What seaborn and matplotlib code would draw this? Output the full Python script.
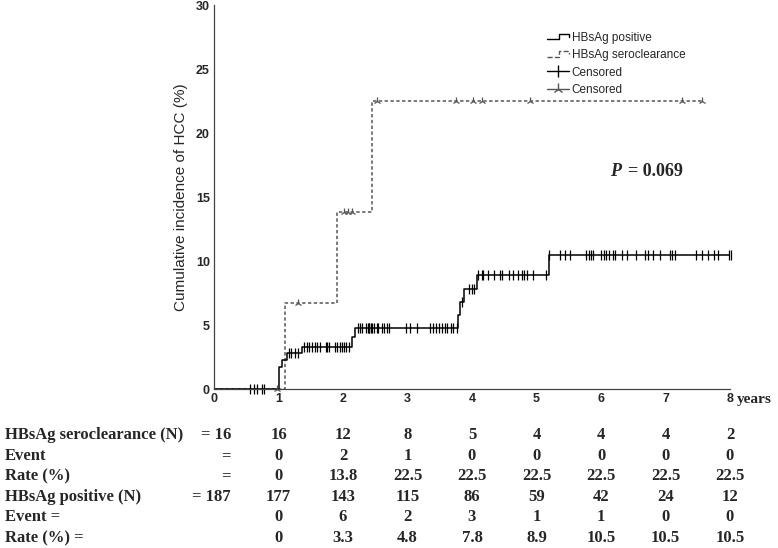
import numpy as np
import matplotlib
matplotlib.use("Agg")
import matplotlib.pyplot as plt
import matplotlib.transforms as mtransforms
from matplotlib.lines import Line2D
from matplotlib.legend_handler import HandlerBase
import seaborn as sns

# ---- step curves (years, cumulative incidence %) ----
pos_times = [0, 1.01, 1.06, 1.13, 1.36, 2.14, 2.19, 3.78, 3.81, 3.88, 4.07, 5.20, 8.01]
pos_rates = [0, 1.7, 2.3, 2.8, 3.3, 4.05, 4.8, 5.8, 6.8, 7.8, 8.9, 10.5, 10.5]
sero_times = [0, 1.10, 1.91, 2.45, 7.58]
sero_rates = [0, 6.7, 13.8, 22.5, 22.5]

# censored times
pos_cens = [0.56, 0.62, 0.67, 0.74, 0.78,
            1.16, 1.20, 1.25, 1.30,
            1.40, 1.44, 1.48, 1.52, 1.56, 1.60, 1.64, 1.73, 1.75, 1.79, 1.87, 1.91,
            1.95, 1.99, 2.01, 2.05, 2.09,
            2.23, 2.26, 2.30, 2.36, 2.38, 2.40, 2.41, 2.44, 2.45, 2.48, 2.53, 2.55,
            2.61, 2.63, 2.68, 2.72, 2.97, 3.04, 3.15, 3.35, 3.39, 3.44, 3.49, 3.54,
            3.58, 3.62, 3.67, 3.70, 3.77,
            3.84, 3.96, 4.00, 4.03,
            4.10, 4.15, 4.17, 4.25, 4.34, 4.43, 4.46, 4.58, 4.64, 4.71, 4.78, 4.81,
            4.86, 4.95, 5.15, 5.20,
            5.36, 5.44, 5.52, 5.77, 5.81, 5.85, 5.87, 6.00, 6.05, 6.08, 6.12, 6.19,
            6.21, 6.32, 6.40, 6.55, 6.68, 6.73, 6.81, 6.91, 7.07, 7.10, 7.15, 7.48,
            7.56, 7.66, 7.75, 7.82, 7.99, 8.01]
sero_cens = [0.98, 1.31, 2.02, 2.08, 2.14, 2.53, 3.75, 4.01, 4.15, 4.90, 7.25, 7.56]

# ---- number-at-risk table ----
table_years = [1, 2, 3, 4, 5, 6, 7, 8]
sero_n = ["16", "12", "8", "5", "4", "4", "4", "2"]
sero_event = ["0", "2", "1", "0", "0", "0", "0", "0"]
sero_rate = ["0", "13.8", "22.5", "22.5", "22.5", "22.5", "22.5", "22.5"]
pos_n = ["177", "143", "115", "86", "59", "42", "24", "12"]
pos_event = ["0", "6", "2", "3", "1", "1", "0", "0"]
pos_rate = ["0", "3.3", "4.8", "7.8", "8.9", "10.5", "10.5", "10.5"]


def level_at(times, rates, t):
    idx = np.searchsorted(times, t, side="right") - 1
    return np.asarray(rates)[idx]


class StepHandler(HandlerBase):
    # little step-shaped line for the legend
    def create_artists(self, legend, orig_handle, xdescent, ydescent, width, height,
                       fontsize, trans):
        x0 = -xdescent
        y0 = -ydescent + height * 0.2
        y1 = -ydescent + height * 0.85
        xs = [x0, x0 + width * 0.55, x0 + width * 0.55, x0 + width, x0 + width]
        ys = [y0, y0, y1, y1, y0 + (y1 - y0) * 0.5]
        ln = Line2D(xs, ys, color=orig_handle.get_color(),
                    linestyle=orig_handle.get_linestyle(),
                    linewidth=orig_handle.get_linewidth())
        ln.set_transform(trans)
        return [ln]


sns.set_style("white")
plt.rcParams["font.family"] = ["Liberation Sans", "DejaVu Sans"]

fig = plt.figure(figsize=(7.78, 5.48), dpi=100)
W, H = 778, 548
ax = fig.add_axes([214 / W, 1 - 389 / H, (730 - 214) / W, (389 - 5) / H])

dash = (0, (2.2, 1.6))
sns.lineplot(x=sero_times, y=sero_rates, drawstyle="steps-post", color="#555555",
             linestyle=dash, linewidth=1.1, ax=ax, sort=False)
sns.lineplot(x=pos_times, y=pos_rates, drawstyle="steps-post", color="black",
             linewidth=1.1, ax=ax, sort=False)

pos_lv = level_at(pos_times, pos_rates, pos_cens)
sero_lv = level_at(sero_times, sero_rates, sero_cens)
ax.plot(pos_cens, pos_lv, linestyle="none", marker="|", markersize=7, mew=0.9,
        color="black", clip_on=False)
ax.plot(sero_cens, sero_lv, linestyle="none", marker="2", markersize=6, mew=0.9,
        color="#555555", clip_on=False)

ax.set_xlim(0, 8)
ax.set_ylim(0, 30)
ax.set_xticks(range(0, 9))
ax.set_yticks(range(0, 31, 5))
ax.tick_params(length=0, pad=3, labelsize=9)
for lab in ax.get_xticklabels() + ax.get_yticklabels():
    lab.set_fontweight("bold")
for s in ["top", "right"]:
    ax.spines[s].set_visible(False)
for s in ["left", "bottom"]:
    ax.spines[s].set_color("#444444")
    ax.spines[s].set_linewidth(0.9)
ax.set_xlabel("")
ax.set_ylabel("Cumulative incidence of HCC (%)", fontsize=11, labelpad=6)

ax.text(8.1, -0.85, "years", fontsize=11, fontweight="bold", family="Liberation Serif",
        ha="left", va="center", clip_on=False)

ax.text(6.14, 17.0, "P", fontsize=13, fontweight="bold", fontstyle="italic",
        family="Liberation Serif", ha="left", va="center")
ax.text(6.42, 17.0, "= 0.069", fontsize=13, fontweight="bold", ha="left", va="center",
        family="Liberation Serif")

handles = [
    Line2D([], [], color="black", linewidth=1.0),
    Line2D([], [], color="#555555", linestyle=dash, linewidth=1.0),
    Line2D([], [], color="black", linewidth=1.0, marker="|", markersize=9, mew=1.0),
    Line2D([], [], color="#555555", linewidth=1.0, marker="2", markersize=8, mew=1.0),
]
labels = ["HBsAg positive", "HBsAg seroclearance", "Censored", "Censored"]
ax.legend(handles, labels, loc="upper left", bbox_to_anchor=(0.645, 0.93),
          frameon=False, fontsize=8.5, handlelength=1.9, handletextpad=0.2,
          labelspacing=0.45, borderpad=0, borderaxespad=0,
          handler_map={handles[0]: StepHandler(), handles[1]: StepHandler()})

# ---- table under the chart ----
tr = mtransforms.blended_transform_factory(ax.transData, fig.transFigure)
row_y = [435, 456, 476, 497, 517, 538]
tfont = dict(fontsize=12, fontweight="bold", family="Liberation Serif", va="center")
left_x = 5 / W
fig.text(left_x, 1 - row_y[0] / H, "HBsAg seroclearance (N)", ha="left", **tfont)
fig.text(left_x, 1 - row_y[1] / H, "Event", ha="left", **tfont)
fig.text(left_x, 1 - row_y[2] / H, "Rate (%)", ha="left", **tfont)
fig.text(left_x, 1 - row_y[3] / H, "HBsAg positive (N)", ha="left", **tfont)
fig.text(left_x, 1 - row_y[4] / H, "Event =", ha="left", **tfont)
fig.text(left_x, 1 - row_y[5] / H, "Rate (%) =", ha="left", **tfont)

right_x = 231 / W
fig.text(right_x, 1 - row_y[0] / H, "= 16", ha="right", **tfont)
fig.text(right_x, 1 - row_y[1] / H, "=", ha="right", **tfont)
fig.text(right_x, 1 - row_y[2] / H, "=", ha="right", **tfont)
fig.text(right_x, 1 - row_y[3] / H, "= 187", ha="right", **tfont)

for row, vals in zip(row_y, [sero_n, sero_event, sero_rate, pos_n, pos_event, pos_rate]):
    for yr, v in zip(table_years, vals):
        ax.text(yr, 1 - row / H, v, transform=tr, ha="center", **tfont)

fig.savefig("out.png", dpi=100)
